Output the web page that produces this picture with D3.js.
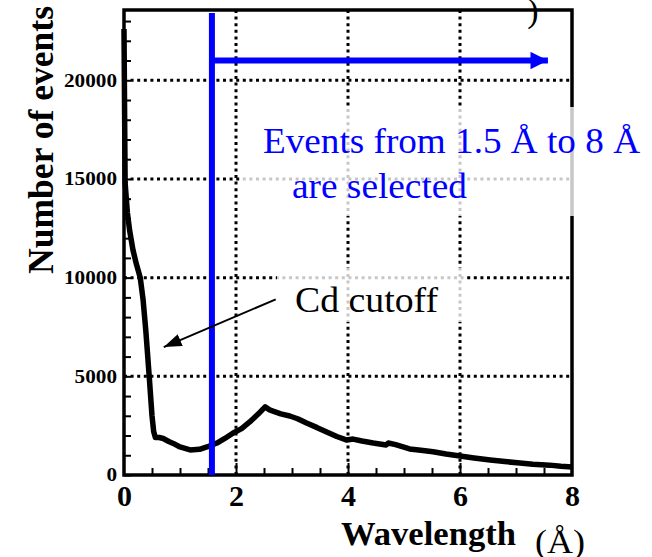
<!DOCTYPE html>
<html lang="en">
<head>
<meta charset="utf-8">
<title>Number of events vs wavelength</title>
<script src="https://d3js.org/d3.v7.min.js"></script>
<style>
  body { margin: 0; background: #fff; }
  svg text { font-family: "Liberation Serif", "Times New Roman", serif; }
</style>
</head>
<body>
<div id="chart"></div>
<script>
// spectrum: wavelength (Å) and number of events
var wavelength = [0.00, 0.02, 0.06, 0.10, 0.16, 0.22, 0.29, 0.34, 0.39, 0.45, 0.50, 0.53, 0.56,
                  0.63, 0.70, 0.80, 0.88, 1.00, 1.18, 1.35, 1.48, 1.66, 1.80, 1.95, 2.10, 2.25,
                  2.40, 2.52, 2.60, 2.66, 2.80, 2.96, 3.10, 3.26, 3.45, 3.62, 3.80, 3.98, 4.09,
                  4.25, 4.45, 4.68, 4.72, 4.85, 5.10, 5.30, 5.52, 5.75, 6.00, 6.25, 6.54, 6.80,
                  7.07, 7.30, 7.60, 7.80, 8.00];
var events = [22600, 14800, 13300, 12400, 11400, 10700, 10000, 8900, 7300, 5000, 3000, 2200, 1900,
              1900, 1850, 1700, 1600, 1420, 1270, 1300, 1420, 1620, 1850, 2130, 2350, 2700,
              3100, 3450, 3300, 3240, 3100, 2990, 2850, 2630, 2400, 2180, 1950, 1770, 1820,
              1720, 1620, 1520, 1620, 1540, 1320, 1250, 1180, 1060, 960, 860, 760, 680,
              610, 550, 500, 440, 400];

var xTicks = [0, 2, 4, 6, 8];
var xMinor = [0.5, 1, 1.5, 2.5, 3, 3.5, 4.5, 5, 5.5, 6.5, 7, 7.5];
var yTicks = [0, 5000, 10000, 15000, 20000];
var yMinor = [1000, 2000, 3000, 4000, 6000, 7000, 8000, 9000, 11000, 12000, 13000, 14000,
              16000, 17000, 18000, 19000, 21000, 22000, 23000];
var xGrid = [2, 4, 6];
var yGrid = [5000, 10000, 15000, 20000];

var selStart = 1.57;          // blue cut line
var selArrow = [1.57, 7.57];  // blue arrow, from / to
var selArrowY = 21000;
var cdArrow = [[2.71, 8900], [0.71, 6480]];  // from label to curve

var margin = { top: 10, right: 80, bottom: 82, left: 124 };
var W = 652, H = 557;
var width = W - margin.left - margin.right;
var height = H - margin.top - margin.bottom;

var root = d3.select("#chart").append("svg")
    .attr("width", W)
    .attr("height", H);

root.append("rect").attr("width", W).attr("height", H).attr("fill", "#fff");

var svg = root.append("g")
    .attr("transform", "translate(" + margin.left + "," + margin.top + ")");

var x = d3.scaleLinear().domain([0, 8]).range([0, width]);
var y = d3.scaleLinear().domain([0, 23560]).range([height, 0]);

// dotted grid
svg.selectAll(".vgrid").data(xGrid).enter().append("line")
    .attr("x1", d => x(d)).attr("x2", d => x(d))
    .attr("y1", 0).attr("y2", height)
    .attr("stroke", "#000").attr("stroke-width", 3)
    .attr("stroke-dasharray", "3,3.6");
svg.selectAll(".hgrid").data(yGrid).enter().append("line")
    .attr("x1", 0).attr("x2", width)
    .attr("y1", d => y(d)).attr("y2", d => y(d))
    .attr("stroke", "#000").attr("stroke-width", 3)
    .attr("stroke-dasharray", "3,3.6");

// inward ticks
svg.append("g")
    .call(d3.axisLeft(y).tickValues(yMinor.concat(yTicks)).tickSize(-7).tickFormat(""))
    .call(g => g.select(".domain").remove())
    .selectAll(".tick line").attr("stroke", "#000").attr("stroke-width", 2);
svg.append("g")
    .attr("transform", "translate(0," + height + ")")
    .call(d3.axisBottom(x).tickValues(xMinor).tickSize(-7).tickFormat(""))
    .call(g => g.select(".domain").remove())
    .selectAll(".tick line").attr("stroke", "#000").attr("stroke-width", 2);
svg.append("g")
    .attr("transform", "translate(0," + height + ")")
    .call(d3.axisBottom(x).tickValues(xGrid).tickSize(-12).tickFormat(""))
    .call(g => g.select(".domain").remove())
    .selectAll(".tick line").attr("stroke", "#000").attr("stroke-width", 2);

// frame
svg.append("rect")
    .attr("width", width).attr("height", height)
    .attr("fill", "none").attr("stroke", "#000").attr("stroke-width", 3.5);

// the pasted labels wash out the grid behind them
root.append("rect").attr("x", 240).attr("y", 107).attr("width", 340).attr("height", 109)
    .attr("fill", "#fff").attr("opacity", 0.78);
root.append("rect").attr("x", 277).attr("y", 268).attr("width", 189).attr("height", 54)
    .attr("fill", "#fff").attr("opacity", 0.78);

// tick labels
var yAx = svg.append("g")
    .call(d3.axisLeft(y).tickValues(yTicks).tickSize(0).tickPadding(7).tickFormat(d3.format("d")));
yAx.select(".domain").remove();
yAx.selectAll("text")
    .attr("font-family", "'Liberation Serif', serif")
    .attr("font-weight", "bold").attr("font-size", 18).attr("fill", "#000")
    .attr("dy", "0.33em")
    .attr("textLength", d => String(d).length * 10.6)
    .attr("lengthAdjust", "spacingAndGlyphs");

var xAx = svg.append("g")
    .attr("transform", "translate(0," + height + ")")
    .call(d3.axisBottom(x).tickValues(xTicks).tickSize(0).tickPadding(10));
xAx.select(".domain").remove();
xAx.selectAll("text")
    .attr("font-family", "'Liberation Serif', serif")
    .attr("font-weight", "bold").attr("font-size", 30).attr("fill", "#000");

// spectrum
var line = d3.line()
    .x((d, i) => x(wavelength[i]))
    .y(d => y(d));
svg.append("path")
    .datum(events)
    .attr("d", line)
    .attr("fill", "none")
    .attr("stroke", "#000")
    .attr("stroke-width", 5.5)
    .attr("stroke-linejoin", "round");

// selection marks
var defs = root.append("defs");
defs.append("marker").attr("id", "blueHead")
    .attr("viewBox", "0 0 10 10").attr("refX", 10).attr("refY", 5)
    .attr("markerWidth", 3.1).attr("markerHeight", 2.9).attr("orient", "auto")
    .attr("markerUnits", "strokeWidth")
    .append("path").attr("d", "M0,0L10,5L0,10Z").attr("fill", "#0000ff");
defs.append("marker").attr("id", "blackHead")
    .attr("viewBox", "0 0 14 10").attr("refX", 14).attr("refY", 5)
    .attr("markerWidth", 9).attr("markerHeight", 6.4).attr("orient", "auto")
    .attr("markerUnits", "strokeWidth")
    .append("path").attr("d", "M0,0L14,5L0,10Z").attr("fill", "#000");

svg.append("line")
    .attr("x1", x(selStart)).attr("x2", x(selStart))
    .attr("y1", 3).attr("y2", height)
    .attr("stroke", "#0000ff").attr("stroke-width", 6);
svg.append("line")
    .attr("x1", x(selArrow[0])).attr("x2", x(selArrow[1]))
    .attr("y1", y(selArrowY)).attr("y2", y(selArrowY))
    .attr("stroke", "#0000ff").attr("stroke-width", 6)
    .attr("marker-end", "url(#blueHead)");

svg.append("line")
    .attr("x1", x(cdArrow[0][0])).attr("y1", y(cdArrow[0][1]))
    .attr("x2", x(cdArrow[1][0])).attr("y2", y(cdArrow[1][1]))
    .attr("stroke", "#000").attr("stroke-width", 2)
    .attr("marker-end", "url(#blackHead)");

// annotations
root.append("text").attr("x", 263).attr("y", 153)
    .attr("font-size", 36).attr("fill", "#0000ff")
    .attr("textLength", 377).attr("lengthAdjust", "spacingAndGlyphs")
    .text("Events from 1.5 Å to 8 Å");
root.append("text").attr("x", 292).attr("y", 198)
    .attr("font-size", 36).attr("fill", "#0000ff")
    .attr("textLength", 175).attr("lengthAdjust", "spacingAndGlyphs")
    .text("are selected");
root.append("text").attr("x", 295).attr("y", 312)
    .attr("font-size", 36).attr("fill", "#000")
    .attr("textLength", 143).attr("lengthAdjust", "spacingAndGlyphs")
    .text("Cd cutoff");
root.append("text").attr("x", 533).attr("y", 22)
    .attr("text-anchor", "middle")
    .attr("font-size", 34).attr("fill", "#000")
    .text(")");

// axis titles
root.append("text")
    .attr("transform", "translate(53,140) rotate(-90)")
    .attr("text-anchor", "middle")
    .attr("font-size", 36).attr("font-weight", "bold").attr("fill", "#000")
    .attr("textLength", 268).attr("lengthAdjust", "spacingAndGlyphs")
    .text("Number of events");
root.append("text").attr("x", 341).attr("y", 545)
    .attr("font-size", 34).attr("font-weight", "bold").attr("fill", "#000")
    .attr("textLength", 175).attr("lengthAdjust", "spacingAndGlyphs")
    .text("Wavelength");
root.append("text").attr("x", 535).attr("y", 553)
    .attr("font-size", 34).attr("fill", "#000")
    .attr("textLength", 50).attr("lengthAdjust", "spacingAndGlyphs")
    .text("(Å)");
</script>
</body>
</html>
